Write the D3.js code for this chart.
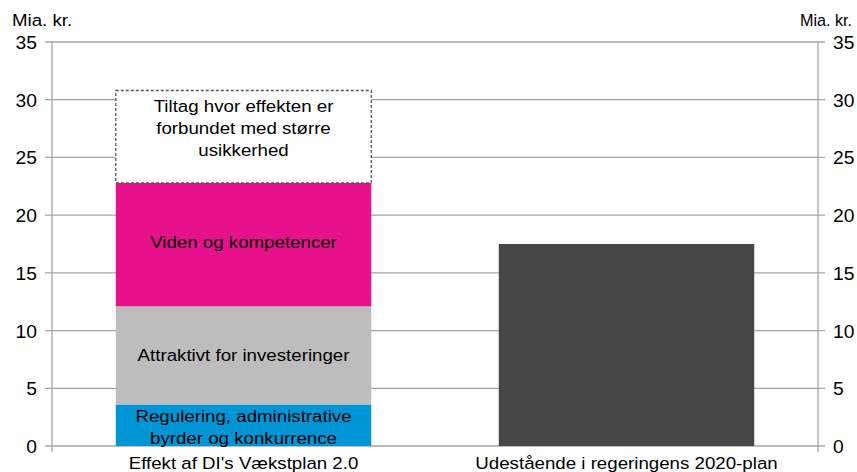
<!DOCTYPE html>
<html>
<head>
<meta charset="utf-8">
<script src="https://cdn.jsdelivr.net/npm/d3@7"></script>
<style>
  body { margin: 0; background: #fff; }
  svg text { font-family: "Liberation Sans", Arial, sans-serif; fill: #000; }
</style>
</head>
<body>
<svg id="chart" width="857" height="472"></svg>
<script>
// categories on the x axis
const categories = ["Effekt af DI's Vækstplan 2.0", "Udestående i regeringens 2020-plan"];

// stacked segments of the first bar (mia. kr.)
const segNames = ["Regulering, administrative\nbyrder og konkurrence", "Attraktivt for investeringer", "Viden og kompetencer", "Tiltag hvor effekten er\nforbundet med større\nusikkerhed"];
const segValues = [3.6, 8.5, 10.7, 8.0];
const segColors = ["#0096d6", "#bdbdbd", "#e8118c", "#ffffff"];

// single bar for the second category
const gapValue = 17.5;
const gapColor = "#464646";

const yTicks = [0, 5, 10, 15, 20, 25, 30, 35];

const svg = d3.select("#chart");
const plotLeft = 52, plotRight = 818, plotTop = 42, plotBottom = 446;
const stretch = 1.1; // text in the original is a bit wider than Arial

const x = d3.scaleBand().domain(categories).range([plotLeft, plotRight]).paddingInner(0.333).paddingOuter(0.1665);
const y = d3.scaleLinear().domain([0, 35]).range([plotBottom, plotTop]);

// places a horizontally stretched text
function label(px, py, str, anchor, size, sx) {
  return svg.append("text")
    .attr("transform", "translate(" + px + "," + py + ") scale(" + (sx || stretch) + ",1)")
    .attr("text-anchor", anchor)
    .style("font-size", size + "px")
    .text(str);
}

// gridlines incl. small ticks outside both axes
svg.append("g").selectAll("line")
  .data(yTicks)
  .enter().append("line")
  .attr("x1", plotLeft - 7).attr("x2", plotRight + 7)
  .attr("y1", d => y(d)).attr("y2", d => y(d))
  .attr("stroke", "#a6a6a6").attr("stroke-width", 1.3);

// axis lines
svg.append("line").attr("x1", plotLeft).attr("x2", plotLeft).attr("y1", plotTop).attr("y2", plotBottom + 6)
  .attr("stroke", "#a6a6a6").attr("stroke-width", 1.3);
svg.append("line").attr("x1", plotRight).attr("x2", plotRight).attr("y1", plotTop).attr("y2", plotBottom + 6)
  .attr("stroke", "#a6a6a6").attr("stroke-width", 1.3);

// tick labels
yTicks.forEach(t => {
  label(37, y(t) + 7, t, "end", 17.5);
  label(833, y(t) + 7, t, "start", 17.5);
});

// unit labels
label(12, 26, "Mia. kr.", "start", 17);
label(852, 26, "Mia. kr.", "end", 17, 0.95);

// stacked bar
let cum = 0;
const stack = segValues.map((v, i) => {
  const s = { name: segNames[i], color: segColors[i], y0: cum, y1: cum + v, i: i };
  cum += v;
  return s;
});

const bx = x(categories[0]), bw = x.bandwidth();
svg.append("g").selectAll("rect")
  .data(stack).enter().append("rect")
  .attr("x", bx).attr("width", bw)
  .attr("y", d => y(d.y1)).attr("height", d => y(d.y0) - y(d.y1))
  .attr("fill", d => d.color)
  .attr("stroke", d => d.i === 3 ? "#555" : "none")
  .attr("stroke-width", 1.3)
  .attr("stroke-dasharray", d => d.i === 3 ? "3,2" : null);

// segment labels
const labelOffsets = [2, 0, -3, -9];
stack.forEach(d => {
  const lines = d.name.split("\n");
  const cy = (y(d.y0) + y(d.y1)) / 2 + labelOffsets[d.i];
  const lh = 22;
  const t = svg.append("text")
    .attr("transform", "translate(" + (bx + bw / 2) + "," + cy + ") scale(" + stretch + ",1)")
    .attr("text-anchor", "middle")
    .style("font-size", "17px");
  lines.forEach((ln, k) => {
    t.append("tspan").attr("x", 0)
      .attr("y", (k - (lines.length - 1) / 2) * lh + 6)
      .text(ln);
  });
});

// second bar
svg.append("rect")
  .attr("x", x(categories[1])).attr("width", bw)
  .attr("y", y(gapValue)).attr("height", y(0) - y(gapValue))
  .attr("fill", gapColor);

// category labels
categories.forEach(c => label(x(c) + bw / 2, 469, c, "middle", 17));
</script>
</body>
</html>
